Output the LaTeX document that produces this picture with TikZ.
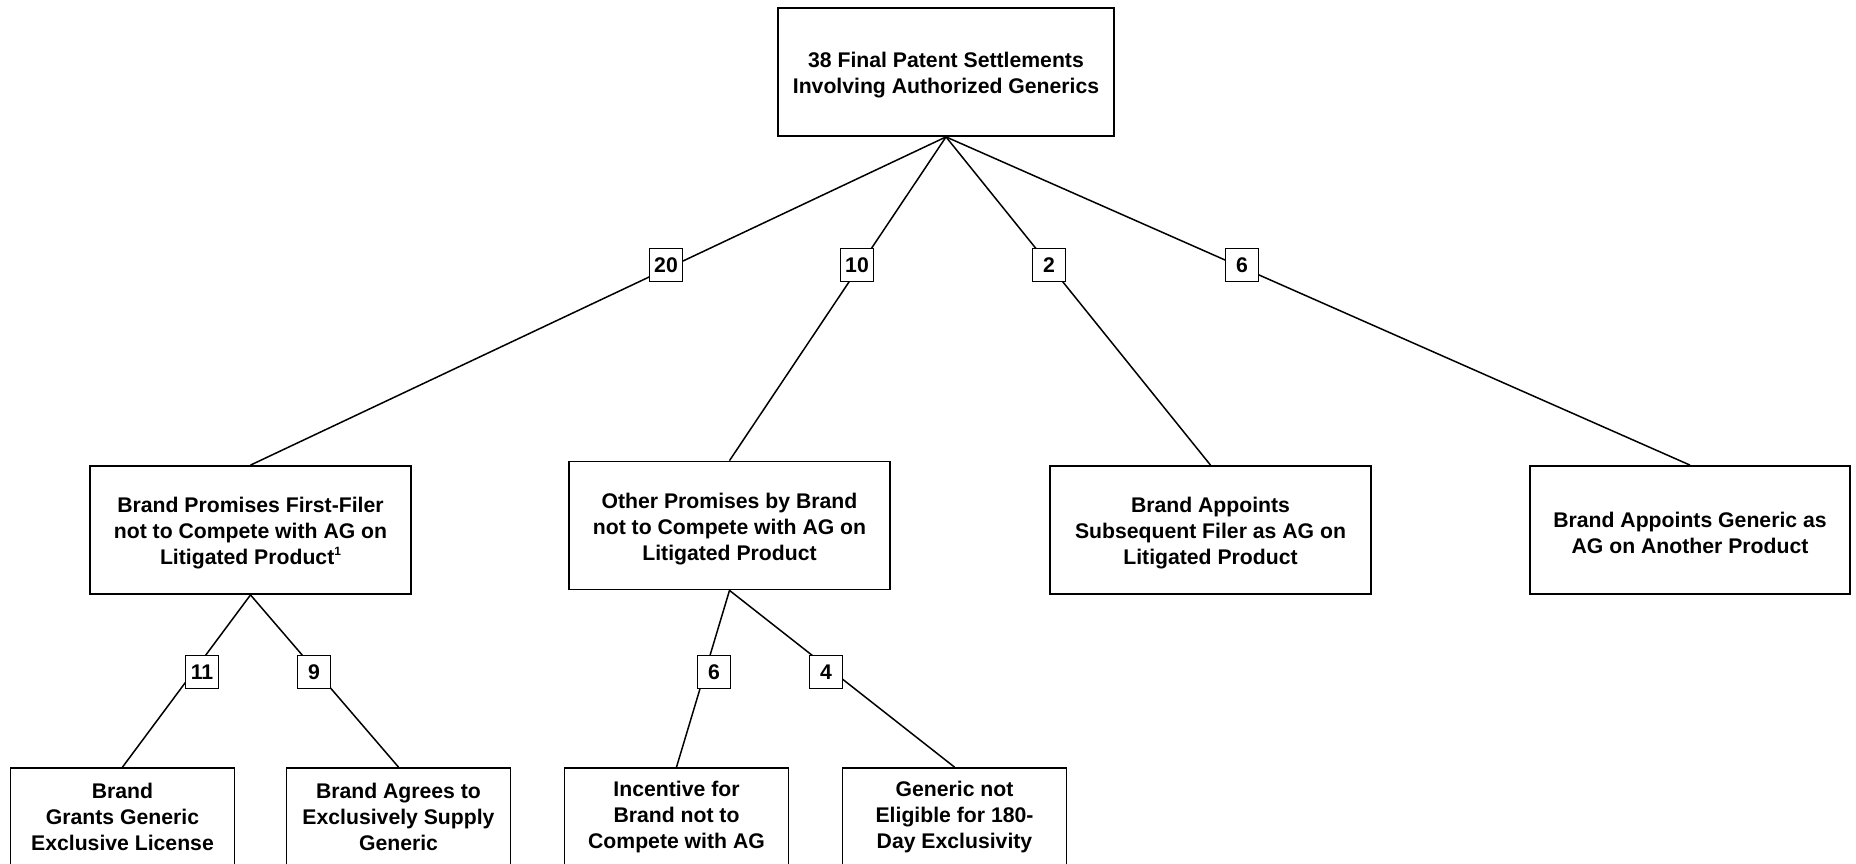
\documentclass[tikz,border=0pt]{standalone}
\usepackage{fontspec}
\setmainfont{Liberation Sans}
\newcommand{\footmark}[1]{\raisebox{0.42em}{\fontsize{12}{12}\selectfont #1}}
\newcommand{\tallstrut}{\rule{0pt}{22pt}}
\begin{document}
\begin{tikzpicture}[x=1pt,y=-1pt,
  txtfont/.style={font=\bfseries\fontsize{21.2}{26}\selectfont},
  box/.style={draw, line width=1.8pt, align=center, txtfont, inner sep=0pt, minimum height=128pt},
  frame/.style={draw, line width=1.8pt, inner sep=0pt, minimum width=224pt, minimum height=120pt},
  boxtext/.style={align=center, txtfont, inner sep=0pt},
  numbox/.style={draw, fill=white, line width=1.8pt, txtfont, inner sep=0pt, minimum size=33pt},
  conn/.style={line width=1.5pt}]
\useasboundingbox (0,0) rectangle (1856,863);
\fill[white] (0,0) rectangle (1856,863);
\clip (0,0) rectangle (1856,863);

\node[box, minimum width=336pt] (root) at (946,72) {\tallstrut 38 Final Patent Settlements\\Involving Authorized Generics};

\node[box, minimum width=321pt] (A) at (250.5,530) {\tallstrut Brand Promises First-Filer\\not to Compete with AG on\\Litigated Product\footmark{1}};
\node[box, minimum width=321pt] (B) at (729.5,525.5) {\tallstrut Other Promises by Brand\\not to Compete with AG on\\Litigated Product};
\node[box, minimum width=321pt] (C) at (1210.5,530) {\tallstrut Brand Appoints\\Subsequent Filer as AG on\\Litigated Product};
\node[box, minimum width=320pt] (D) at (1690,530) {\tallstrut Brand Appoints Generic as\\AG on Another Product};

\node[frame] (E) at (122.5,828) {};
\node[frame] (F) at (398.5,828) {};
\node[frame] (G) at (676.5,828) {};
\node[frame] (H) at (954.5,828) {};
\node[boxtext] (Et) at (122.5,817) {Brand\\Grants Generic\\Exclusive License};
\node[boxtext] (Ft) at (398.5,817) {Brand Agrees to\\Exclusively Supply\\Generic};
\node[boxtext] (Gt) at (676.5,817) {Incentive for\\Brand not to\\Compete with AG};
\node[boxtext] (Ht) at (954.5,817) {Generic not\\Eligible for 180-\\Day Exclusivity};

\draw[conn] (root.south) -- (A.north);
\draw[conn] (root.south) -- (B.north);
\draw[conn] (root.south) -- (C.north);
\draw[conn] (root.south) -- (D.north);
\draw[conn] (A.south) -- (E.north);
\draw[conn] (A.south) -- (F.north);
\draw[conn] (B.south) -- (G.north);
\draw[conn] (B.south) -- (H.north);

\node[numbox] (n20) at (666,265) {20};
\node[numbox] (n10) at (857,265) {10};
\node[numbox] (n2) at (1049,265) {2};
\node[numbox] (n6) at (1242,265) {6};
\node[numbox] (n11) at (202,672) {11};
\node[numbox] (n9) at (314,672) {9};
\node[numbox] (n6b) at (714,672) {6};
\node[numbox] (n4) at (826,672) {4};
\end{tikzpicture}
\end{document}
